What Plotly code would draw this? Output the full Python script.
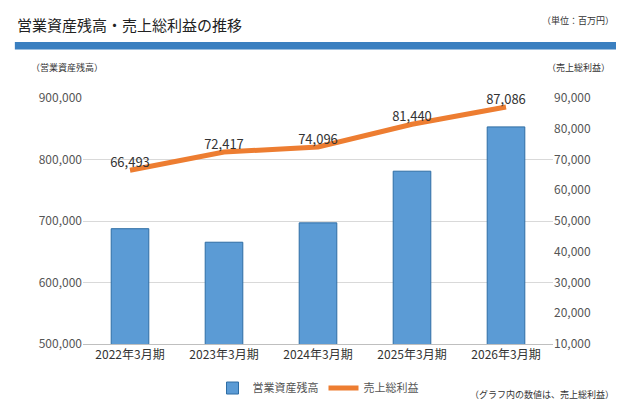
import plotly.graph_objects as go

categories = ["2022年3月期", "2023年3月期", "2024年3月期", "2025年3月期", "2026年3月期"]
assets = [687500, 665500, 697000, 781000, 853000]
gross_profit = [66493, 72417, 74096, 81440, 87086]

font = "Noto Sans CJK JP"

fig = go.Figure()
fig.add_trace(go.Bar(
    x=categories, y=assets, name="営業資産残高", width=0.4,
    marker=dict(color="#5b9bd5", line=dict(color="#2e6da4", width=1)),
))
fig.add_trace(go.Scatter(
    x=categories, y=gross_profit, name="売上総利益", yaxis="y2",
    mode="lines+text", line=dict(color="#ed7d31", width=5),
    text=[f"{v:,}" for v in gross_profit], textposition="top center",
    textfont=dict(size=13, color="#333333"), cliponaxis=False,
))

fig.update_layout(
    width=624, height=407,
    margin=dict(l=75, r=79, t=90, b=63),
    plot_bgcolor="white", paper_bgcolor="white",
    font=dict(family=font, size=12, color="#333333"),
    xaxis=dict(showline=True, linecolor="#bfbfbf", tickfont=dict(size=12)),
    yaxis=dict(range=[500000, 900000], dtick=100000, tickformat=",",
               showgrid=True, gridcolor="#d9d9d9", tickfont=dict(size=12, color="#555555")),
    yaxis2=dict(range=[10000, 90000], dtick=10000, tickformat=",", overlaying="y",
                side="right", showgrid=False, tickfont=dict(size=12, color="#555555")),
    legend=dict(orientation="h", x=0.5, xanchor="center", y=-0.12, yanchor="top",
                font=dict(size=11, color="#555555")),
    showlegend=True,
    shapes=[dict(type="rect", xref="paper", yref="paper", x0=-0.145, x1=1.135,
                 y0=1.197, y1=1.228, fillcolor="#3a7fc0", line=dict(width=0))],
    annotations=[
        dict(text="営業資産残高・売上総利益の推移", xref="paper", yref="paper", x=-0.145, y=1.30,
             xanchor="left", yanchor="middle", showarrow=False, font=dict(size=15, color="#222222")),
        dict(text="（単位：百万円）", xref="paper", yref="paper", x=1.135, y=1.315,
             xanchor="right", yanchor="middle", showarrow=False, font=dict(size=9)),
        dict(text="（営業資産残高）", xref="paper", yref="paper", x=-0.115, y=1.125,
             xanchor="left", yanchor="middle", showarrow=False, font=dict(size=9)),
        dict(text="（売上総利益）", xref="paper", yref="paper", x=1.125, y=1.125,
             xanchor="right", yanchor="middle", showarrow=False, font=dict(size=9)),
        dict(text="（グラフ内の数値は、売上総利益）", xref="paper", yref="paper", x=1.135, y=-0.205,
             xanchor="right", yanchor="middle", showarrow=False, font=dict(size=9)),
    ],
)

fig.write_html("out.html")
